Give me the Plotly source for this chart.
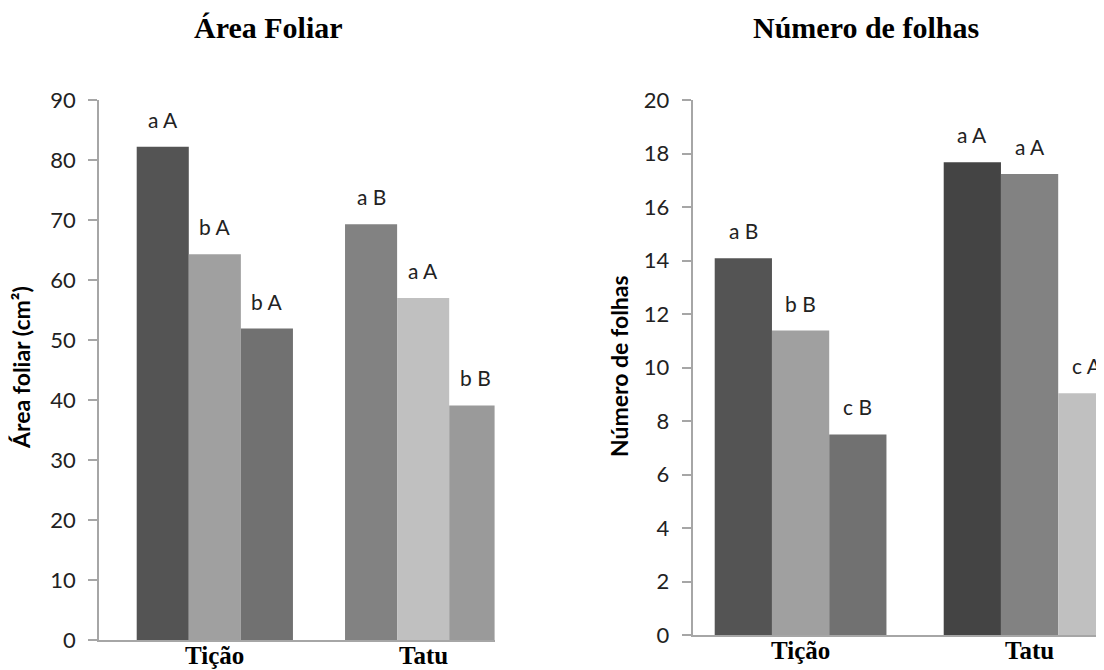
import plotly.graph_objects as go

# ---------------- data ----------------
cultivars = ["Tição", "Tatu"]

area_t1 = [82.2, 69.3]
area_t2 = [64.3, 57.0]
area_t3 = [51.9, 39.1]
area_lab_t1 = ["a A", "a B"]
area_lab_t2 = ["b A", "a A"]
area_lab_t3 = ["b A", "b B"]

folhas_t1 = [14.08, 17.67]
folhas_t2 = [11.38, 17.23]
folhas_t3 = [7.5, 9.04]
folhas_lab_t1 = ["a B", "a A"]
folhas_lab_t2 = ["b B", "a A"]
folhas_lab_t3 = ["c B", "c A"]

area_ticks = list(range(0, 91, 10))
folhas_ticks = list(range(0, 21, 2))

# ---------------- style ----------------
PAGE_W, PAGE_H = 1104, 670
OFF = 8  # default page body margin
W, H = PAGE_W - OFF, PAGE_H - OFF
area_colors = [["#545454", "#828282"], ["#a0a0a0", "#c0c0c0"], ["#717171", "#9a9a9a"]]
folhas_colors = [["#545454", "#444444"], ["#a0a0a0", "#828282"], ["#717171", "#c0c0c0"]]
BARGAP = 0.25
axis_col = "#a6a6a6"
sans = "Lato"
serif = "Liberation Serif"

def px_x(p):
    return (p - OFF) / W

def px_y(p):
    return (PAGE_H - p) / H

fig = go.Figure()

area_series = [area_t1, area_t2, area_t3]
area_labels = [area_lab_t1, area_lab_t2, area_lab_t3]
folhas_series = [folhas_t1, folhas_t2, folhas_t3]
folhas_labels = [folhas_lab_t1, folhas_lab_t2, folhas_lab_t3]

annotations = []
w = (1 - BARGAP) / 3
for k in range(3):
    fig.add_trace(go.Bar(x=cultivars, y=area_series[k], marker=dict(color=area_colors[k], line=dict(width=0)),
                         xaxis="x", yaxis="y", showlegend=False, hoverinfo="y"))
    fig.add_trace(go.Bar(x=cultivars, y=folhas_series[k], marker=dict(color=folhas_colors[k], line=dict(width=0)),
                         xaxis="x2", yaxis="y2", showlegend=False, hoverinfo="y"))
    for i in range(len(cultivars)):
        annotations.append(dict(x=i + (k - 1) * w, y=area_series[k][i], xref="x", yref="y",
                                text=area_labels[k][i], showarrow=False, yanchor="bottom", yshift=13,
                                font=dict(family=sans, size=21, color="#222")))
        annotations.append(dict(x=i + (k - 1) * w, y=folhas_series[k][i], xref="x2", yref="y2",
                                text=folhas_labels[k][i], showarrow=False, yanchor="bottom", yshift=13,
                                font=dict(family=sans, size=21, color="#222")))

# category labels under each group (drawn at the category positions)
for i, name in enumerate(cultivars):
    annotations.append(dict(x=i, y=px_y(641), xref="x", yref="paper", text=f"<b>{name}</b>",
                            showarrow=False, xanchor="center", yanchor="top", borderpad=0,
                            font=dict(family=serif, size=25, color="black")))
    annotations.append(dict(x=i, y=px_y(636), xref="x2", yref="paper", text=f"<b>{name}</b>",
                            showarrow=False, xanchor="center", yanchor="top", borderpad=0,
                            font=dict(family=serif, size=25, color="black")))

# titles
annotations.append(dict(x=px_x(268), y=px_y(27), xref="paper", yref="paper", text="<b>Área Foliar</b>",
                        showarrow=False, xanchor="center", yanchor="middle",
                        font=dict(family=serif, size=30, color="black")))
annotations.append(dict(x=px_x(866), y=px_y(27), xref="paper", yref="paper", text="<b>Número de folhas</b>",
                        showarrow=False, xanchor="center", yanchor="middle",
                        font=dict(family=serif, size=30, color="black")))
# y axis titles
annotations.append(dict(x=px_x(21), y=px_y(368), xref="paper", yref="paper", text="<b>Área foliar (cm²)</b>",
                        showarrow=False, textangle=-90, xanchor="center", yanchor="middle",
                        font=dict(family=sans, size=23, color="black")))
annotations.append(dict(x=px_x(619), y=px_y(366), xref="paper", yref="paper", text="<b>Número de folhas</b>",
                        showarrow=False, textangle=-90, xanchor="center", yanchor="middle",
                        font=dict(family=sans, size=23, color="black")))

xcommon = dict(type="category", showline=True, linecolor=axis_col, linewidth=1.5, ticks="",
               showticklabels=False, showgrid=False, zeroline=False, automargin=False)
ycommon = dict(showline=True, linecolor=axis_col, linewidth=1.5, ticks="outside", ticklen=9,
               tickcolor=axis_col, tickwidth=1.5, showgrid=False, zeroline=False, automargin=False,
               ticklabelstandoff=8, tickfont=dict(family=sans, size=22, color="#222"))

fig.update_layout(
    width=W, height=H,
    margin=dict(l=0, r=0, t=0, b=0),
    paper_bgcolor="white", plot_bgcolor="white",
    barmode="group", bargap=BARGAP, bargroupgap=0,
    xaxis=dict(xcommon, domain=[px_x(99), px_x(494.6)], range=[-0.556, 1.343], anchor="y"),
    yaxis=dict(ycommon, domain=[px_y(640), px_y(100)], range=[0, 90], tickvals=area_ticks, anchor="x"),
    xaxis2=dict(xcommon, domain=[px_x(692.5), 1.0], range=[-0.472, 1.325], anchor="y2"),
    yaxis2=dict(ycommon, domain=[px_y(635), px_y(100)], range=[0, 20], tickvals=folhas_ticks, anchor="x2"),
    annotations=annotations,
)

fig.write_html("out.html")
